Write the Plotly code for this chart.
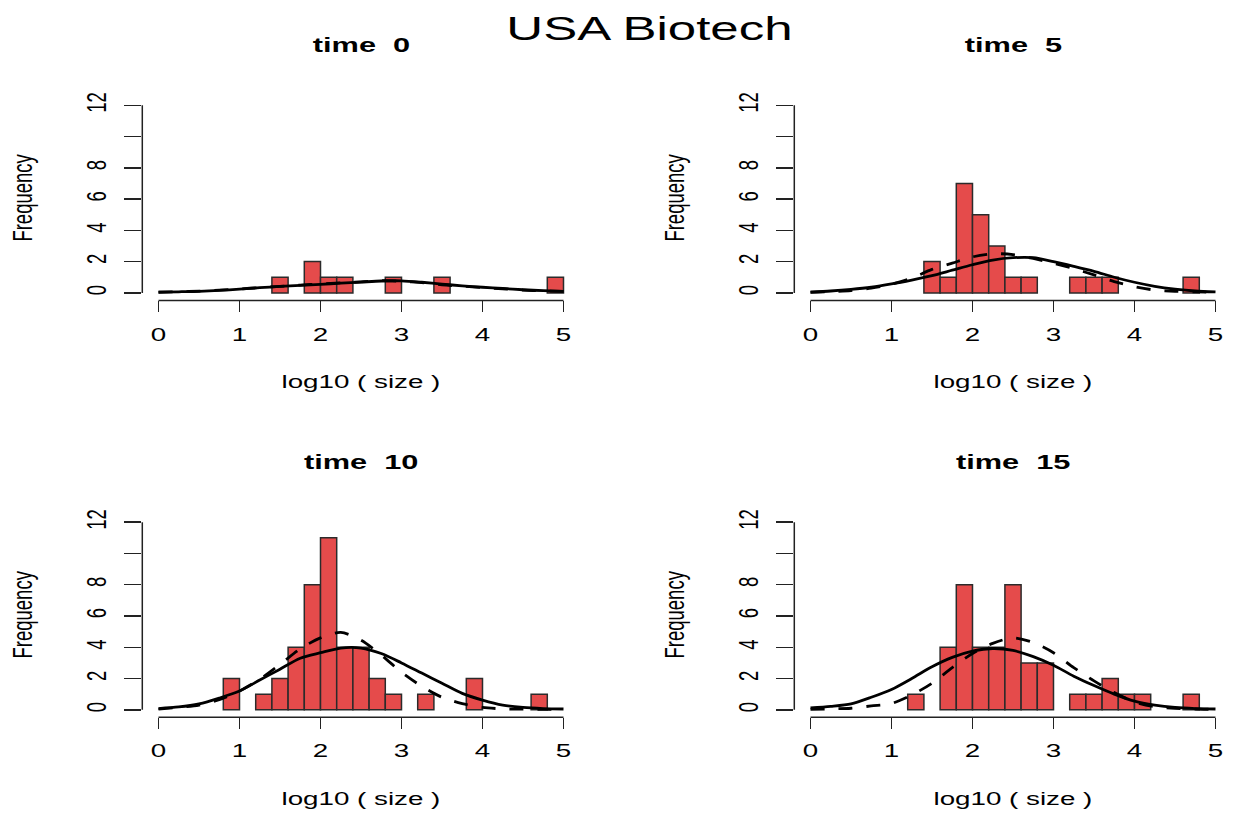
import plotly.graph_objects as go

W, H = 1233, 818

# ---- data -------------------------------------------------------------
panel_titles = ["time  0", "time  5", "time  10", "time  15"]

# histogram bins (left edges, width 0.2) on log10(size)
bin_left = [0.0, 0.2, 0.4, 0.6, 0.8, 1.0, 1.2, 1.4, 1.6, 1.8, 2.0, 2.2, 2.4,
            2.6, 2.8, 3.0, 3.2, 3.4, 3.6, 3.8, 4.0, 4.2, 4.4, 4.6, 4.8]
bin_width = 0.2

counts_t0 = [0, 0, 0, 0, 0, 0, 0, 1, 0, 2, 1, 1, 0, 0, 1, 0, 0, 1, 0, 0, 0, 0, 0, 0, 1]
counts_t5 = [0, 0, 0, 0, 0, 0, 0, 2, 1, 7, 5, 3, 1, 1, 0, 0, 1, 1, 1, 0, 0, 0, 0, 1, 0]
counts_t10 = [0, 0, 0, 0, 2, 0, 1, 2, 4, 8, 11, 4, 4, 2, 1, 0, 1, 0, 0, 2, 0, 0, 0, 1, 0]
counts_t15 = [0, 0, 0, 0, 0, 0, 1, 0, 4, 8, 4, 4, 8, 3, 3, 0, 1, 1, 2, 1, 1, 0, 0, 1, 0]

# fitted density curves, scaled to frequency
curve_x = [0.0, 0.25, 0.5, 0.75, 1.0, 1.25, 1.5, 1.75, 2.0, 2.25, 2.5,
           2.75, 3.0, 3.25, 3.5, 3.75, 4.0, 4.25, 4.5, 4.75, 5.0]
solid_t0 = [0.05, 0.07, 0.10, 0.16, 0.24, 0.33, 0.41, 0.48, 0.55, 0.62, 0.69,
            0.76, 0.77, 0.68, 0.56, 0.45, 0.36, 0.28, 0.20, 0.14, 0.10]
dashed_t0 = [0.04, 0.07, 0.11, 0.17, 0.25, 0.34, 0.42, 0.50, 0.58, 0.64, 0.70,
             0.78, 0.74, 0.65, 0.52, 0.43, 0.34, 0.26, 0.18, 0.12, 0.09]
solid_t5 = [0.05, 0.12, 0.22, 0.36, 0.57, 0.82, 1.10, 1.45, 1.80, 2.10, 2.25,
            2.25, 2.00, 1.70, 1.38, 1.00, 0.68, 0.42, 0.24, 0.12, 0.06]
dashed_t5 = [0.04, 0.08, 0.15, 0.30, 0.55, 0.95, 1.50, 1.90, 2.30, 2.50, 2.45,
             2.20, 1.90, 1.55, 1.15, 0.72, 0.40, 0.18, 0.10, 0.06, 0.04]
solid_t10 = [0.08, 0.18, 0.38, 0.75, 1.20, 1.90, 2.60, 3.30, 3.65, 3.95, 3.95,
             3.60, 3.00, 2.35, 1.70, 1.05, 0.62, 0.30, 0.15, 0.08, 0.05]
dashed_t10 = [0.05, 0.15, 0.30, 0.65, 1.20, 1.95, 2.90, 3.90, 4.60, 4.95, 4.45,
              3.50, 2.40, 1.50, 0.80, 0.40, 0.15, 0.06, 0.04, 0.03, 0.02]
solid_t15 = [0.12, 0.22, 0.38, 0.80, 1.30, 2.00, 2.75, 3.35, 3.75, 3.92, 3.80,
             3.40, 2.85, 2.15, 1.55, 1.00, 0.55, 0.30, 0.15, 0.08, 0.05]
dashed_t15 = [0.03, 0.06, 0.10, 0.25, 0.40, 0.95, 1.70, 2.70, 3.60, 4.25, 4.60,
              4.30, 3.65, 2.70, 1.85, 1.10, 0.50, 0.20, 0.10, 0.05, 0.03]

x_ticks = [0, 1, 2, 3, 4, 5]
y_ticks = [0, 2, 4, 6, 8, 10, 12]
y_ticktext = ["0", "2", "4", "6", "8", "", "12"]

counts = [counts_t0, counts_t5, counts_t10, counts_t15]
solids = [solid_t0, solid_t5, solid_t10, solid_t15]
dasheds = [dashed_t0, dashed_t5, dashed_t10, dashed_t15]

# ---- style ------------------------------------------------------------
FONT = "Liberation Sans, Arial, sans-serif"
BAR_FILL = "#E54B4B"
EDGE = "#2b2b2b"
AXIS_COL = "#222222"
TICK_SIZE = 18.5

# plot regions in pixels: (left, right, top, bottom)
regions = [
    (142.3, 579.7, 92.44, 296.56),
    (794.3, 1231.7, 92.44, 296.56),
    (142.3, 579.7, 512.44, 716.56),
    (794.3, 1231.7, 512.44, 716.56),
]

fig = go.Figure()
layout = dict(
    width=W, height=H, autosize=False,
    margin=dict(l=0, r=0, t=0, b=0),
    paper_bgcolor="white", plot_bgcolor="white",
    showlegend=False, bargap=0,
    font=dict(family=FONT, color="black"),
)
shapes = []
annotations = []

for k in range(4):
    sfx = "" if k == 0 else str(k + 1)
    xa, ya = "x" + sfx, "y" + sfx
    left, right, top, bottom = regions[k]

    centers = [b + bin_width / 2 for b, c in zip(bin_left, counts[k]) if c > 0]
    heights = [c for c in counts[k] if c > 0]
    fig.add_trace(go.Bar(
        x=centers, y=heights, width=bin_width, xaxis=xa, yaxis=ya,
        marker=dict(color=BAR_FILL, line=dict(color=EDGE, width=1.5)),
        hoverinfo="skip",
    ))
    fig.add_trace(go.Scatter(
        x=curve_x, y=solids[k], mode="lines", xaxis=xa, yaxis=ya,
        line=dict(color="black", width=2.8, shape="spline", smoothing=0.8),
        hoverinfo="skip",
    ))
    fig.add_trace(go.Scatter(
        x=curve_x, y=dasheds[k], mode="lines", xaxis=xa, yaxis=ya,
        line=dict(color="black", width=2.8, dash="14px,14px",
                  shape="spline", smoothing=0.8),
        hoverinfo="skip",
    ))

    layout["xaxis" + sfx] = dict(
        domain=[left / W, right / W], range=[-0.2, 5.2], anchor=ya,
        tickmode="array", tickvals=x_ticks, ticks="outside", ticklen=11,
        tickwidth=1.5, tickcolor=AXIS_COL, showline=False, showgrid=False,
        zeroline=False, tickfont=dict(size=TICK_SIZE, family=FONT, color="black"),
        ticklabelstandoff=6, fixedrange=True,
    )
    layout["yaxis" + sfx] = dict(
        domain=[1 - bottom / H, 1 - top / H], range=[-0.48, 12.48], anchor=xa,
        tickmode="array", tickvals=y_ticks, ticktext=y_ticktext, tickangle=-90,
        ticks="outside", ticklen=17, tickwidth=1.5, tickcolor=AXIS_COL,
        showline=False, showgrid=False, zeroline=False,
        tickfont=dict(size=TICK_SIZE, family=FONT, color="black"),
        ticklabelstandoff=14, fixedrange=True,
    )

    # axis lines spanning only the labelled range
    shapes.append(dict(type="line", xref=xa, yref=ya + " domain",
                       x0=x_ticks[0], x1=x_ticks[-1], y0=0, y1=0,
                       line=dict(color=AXIS_COL, width=1.5)))
    shapes.append(dict(type="line", xref=xa + " domain", yref=ya,
                       x0=0, x1=0, y0=y_ticks[0], y1=y_ticks[-1],
                       line=dict(color=AXIS_COL, width=1.5)))

    cx = (left + right) / 2
    off_y = top - 92.44
    off_x = left - 142.3
    annotations.append(dict(
        text="<b>" + panel_titles[k] + "</b>", xref="paper", yref="paper",
        x=cx / W, y=1 - (38.4 + off_y) / H, xanchor="center", yanchor="middle",
        showarrow=False, font=dict(size=20.5, family=FONT, color="black"),
    ))
    annotations.append(dict(
        text="log10 ( size )", xref="paper", yref="paper",
        x=cx / W, y=1 - (378.5 + off_y) / H, xanchor="center", yanchor="middle",
        showarrow=False, font=dict(size=TICK_SIZE, family=FONT, color="black"),
    ))
    annotations.append(dict(
        text="Frequency", xref="paper", yref="paper", textangle=-90,
        x=(22 + off_x) / W, y=1 - (193 + off_y) / H, xanchor="center",
        yanchor="middle", showarrow=False,
        font=dict(size=TICK_SIZE, family=FONT, color="black"),
    ))

annotations.append(dict(
    text="USA Biotech", xref="paper", yref="paper", x=649.5 / W, y=1 - 22 / H,
    xanchor="center", yanchor="middle", showarrow=False,
    font=dict(size=34, family=FONT, color="black"),
))

layout["shapes"] = shapes
layout["annotations"] = annotations
fig.update_layout(**layout)

# The source device drew its lettering wide; widen every text node about its centre.
widen_text = """
var gd = document.getElementById('{plot_id}');
var SX = 1.5;
gd.querySelectorAll('text').forEach(function(el) {
  if (!el.textContent.trim()) return;
  var svg = el.ownerSVGElement;
  var bb = el.getBBox();
  var p = svg.createSVGPoint();
  p.x = bb.x + bb.width / 2; p.y = bb.y + bb.height / 2;
  p = p.matrixTransform(el.getCTM());
  var S = svg.createSVGMatrix().translate(p.x, p.y).scaleNonUniform(SX, 1).translate(-p.x, -p.y);
  var pc = el.parentNode.getCTM();
  var own = el.transform.baseVal.consolidate();
  var ownM = own ? own.matrix : svg.createSVGMatrix();
  var M = pc.inverse().multiply(S).multiply(pc).multiply(ownM);
  el.setAttribute('transform', 'matrix(' + [M.a, M.b, M.c, M.d, M.e, M.f].join(',') + ')');
});
"""

fig.write_html("out.html", config={"staticPlot": True}, post_script=widen_text)
